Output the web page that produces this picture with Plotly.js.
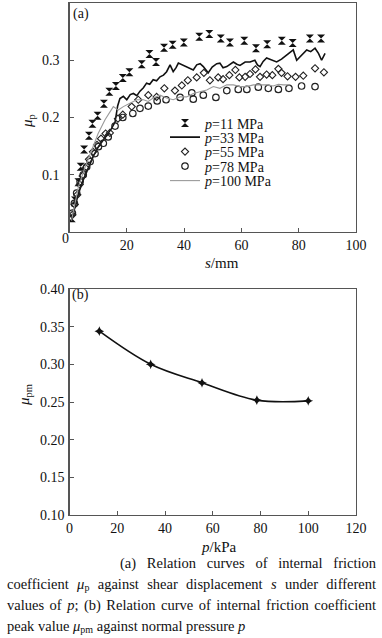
<!DOCTYPE html>
<html>
<head>
<meta charset="utf-8">
<script src="https://cdn.plot.ly/plotly-3.0.1.min.js"></script>
<style>
  html, body { margin: 0; padding: 0; background: #fff; }
  #wrap { position: relative; width: 382px; height: 638px; overflow: hidden; }
  #chart { position: absolute; left: 0; top: 0; width: 382px; height: 638px; }
  #caption { position: absolute; left: 7px; top: 553px; width: 369px;
    font-family: "Liberation Serif", "Times New Roman", serif; font-size: 14.5px;
    line-height: 21px; color: #111; }
  #caption .j { text-align: justify; text-align-last: justify; white-space: nowrap; }
  #caption .l { text-align: left; white-space: nowrap; }
  #caption sub { font-size: 10px; vertical-align: -2px; line-height: 0; }
  #chart text { font-family: "Liberation Serif", "Times New Roman", serif !important; }
</style>
</head>
<body>
<div id="wrap">
  <div id="chart"></div>
  <div id="caption">
    <div class="j" style="padding-left:113px">(a) Relation curves of internal friction</div>
    <div class="j">coefficient <i>μ</i><sub>p</sub> against shear displacement <i>s</i> under different</div>
    <div class="j">values of <i>p</i>; (b) Relation curve of internal friction coefficient</div>
    <div class="l">peak value <i>μ</i><sub>pm</sub> against normal pressure <i>p</i></div>
  </div>
</div>
<script>
// ---------- (a) data: mu_p vs s ----------
var s11  = [0.8, 1.9, 3.1, 3.9, 5.1, 6.8, 8.0, 9.8, 12.0, 13.9, 16.2, 18.6, 20.9, 25.2, 27.9, 30.2, 33.0, 36.0, 39.9, 45.3, 48.8, 52.8, 56.0, 61.0, 65.1, 69.0, 74.1, 77.9, 83.9, 87.8];
var mu11 = [0.024, 0.055, 0.087, 0.114, 0.144, 0.168, 0.189, 0.203, 0.224, 0.245, 0.255, 0.269, 0.279, 0.293, 0.311, 0.297, 0.322, 0.327, 0.331, 0.341, 0.346, 0.338, 0.331, 0.334, 0.321, 0.328, 0.334, 0.330, 0.338, 0.338];

var s33  = [0.7, 1.9, 3.1, 4.8, 6.6, 8.3, 10.1, 12.4, 14.7, 15.9, 16.8, 17.6, 18.8, 20.0, 21.2, 22.3, 23.5, 24.6, 25.8, 26.9, 28.0, 29.2, 30.4, 31.6, 32.8, 33.9, 35.1, 36.2, 37.2, 38.0, 39.2, 40.3, 41.8, 43.2, 44.4, 45.6, 46.7, 48.4, 49.8, 51.4, 52.5, 53.6, 54.9, 56.0, 57.2, 58.4, 59.5, 61.3, 63.0, 64.7, 65.6, 66.5, 67.6, 68.8, 70.5, 72.3, 74.0, 75.8, 77.0, 78.1, 79.3, 80.9, 82.8, 84.2, 85.7, 86.9, 88.0, 89.2];
var mu33 = [0.020, 0.044, 0.067, 0.091, 0.112, 0.132, 0.149, 0.164, 0.181, 0.192, 0.220, 0.233, 0.237, 0.231, 0.240, 0.242, 0.238, 0.246, 0.252, 0.260, 0.258, 0.266, 0.264, 0.271, 0.274, 0.280, 0.292, 0.280, 0.287, 0.295, 0.292, 0.289, 0.286, 0.283, 0.292, 0.294, 0.289, 0.278, 0.288, 0.294, 0.295, 0.287, 0.289, 0.293, 0.297, 0.293, 0.291, 0.297, 0.297, 0.300, 0.292, 0.289, 0.298, 0.304, 0.300, 0.297, 0.302, 0.309, 0.314, 0.318, 0.300, 0.309, 0.318, 0.315, 0.321, 0.312, 0.300, 0.312];

var s55  = [1.0, 1.8, 2.7, 3.6, 4.6, 5.6, 6.8, 8.2, 9.6, 11.0, 12.6, 14.1, 16.9, 18.6, 21.7, 24.0, 27.5, 30.4, 33.1, 36.8, 39.2, 41.3, 44.4, 46.9, 49.0, 51.9, 53.6, 55.8, 57.9, 59.3, 61.3, 63.0, 64.9, 66.5, 68.8, 70.8, 72.9, 74.0, 76.1, 78.9, 81.6, 85.7, 88.8];
var mu55 = [0.030, 0.048, 0.065, 0.083, 0.098, 0.112, 0.127, 0.140, 0.152, 0.163, 0.172, 0.173, 0.198, 0.205, 0.219, 0.231, 0.239, 0.236, 0.251, 0.247, 0.256, 0.265, 0.270, 0.278, 0.265, 0.270, 0.267, 0.274, 0.283, 0.270, 0.271, 0.276, 0.284, 0.271, 0.275, 0.274, 0.285, 0.278, 0.272, 0.271, 0.273, 0.286, 0.279];

var s78  = [1.0, 1.7, 2.5, 3.7, 4.8, 6.0, 7.2, 8.9, 10.1, 11.8, 13.5, 15.9, 18.6, 22.1, 24.6, 27.5, 30.6, 33.7, 38.6, 42.7, 43.2, 46.7, 51.1, 54.9, 58.9, 61.9, 65.9, 69.4, 72.9, 76.6, 81.0, 85.7];
var mu78 = [0.033, 0.050, 0.068, 0.088, 0.100, 0.114, 0.123, 0.137, 0.149, 0.155, 0.166, 0.185, 0.200, 0.207, 0.216, 0.220, 0.229, 0.231, 0.235, 0.243, 0.232, 0.239, 0.235, 0.247, 0.249, 0.249, 0.253, 0.251, 0.249, 0.251, 0.255, 0.254];

var s100  = [0.7, 2.0, 3.1, 5.5, 7.7, 10.0, 12.4, 14.7, 15.3, 17.0, 18.8, 21.1, 23.5, 25.8, 27.5, 29.2, 31.6, 33.9, 36.2, 38.6, 40.9, 43.2, 45.5, 47.9, 50.2, 52.5, 54.9, 57.2, 59.5, 61.8, 64.2, 66.5, 68.8, 71.1, 72.9, 74.6, 77.0];
var mu100 = [0.020, 0.050, 0.079, 0.114, 0.143, 0.172, 0.196, 0.213, 0.219, 0.213, 0.219, 0.225, 0.231, 0.231, 0.228, 0.234, 0.239, 0.234, 0.231, 0.236, 0.236, 0.242, 0.245, 0.248, 0.254, 0.251, 0.257, 0.257, 0.254, 0.254, 0.257, 0.257, 0.257, 0.255, 0.258, 0.257, 0.257];

var seriesNames = ["<i>p</i>=11 MPa", "<i>p</i>=33 MPa", "<i>p</i>=55 MPa", "<i>p</i>=78 MPa", "<i>p</i>=100 MPa"];

// ---------- (b) data: peak mu_pm vs p ----------
var pVals = [12.5, 34, 55.5, 78.5, 100];
var muPm  = [0.344, 0.300, 0.2755, 0.2525, 0.2515];

// ---------- tick labels ----------
var xTopTicks = [20, 40, 60, 80, 100];
var xTopText  = ["20", "40", "60", "80", "100"];
var yTopTicks = [0.1, 0.2, 0.3, 0.4];
var yTopText  = ["0.1", "0.2", "0.3", "0.4"];
var xBotTicks = [0, 20, 40, 60, 80, 100, 120];
var xBotText  = ["0", "20", "40", "60", "80", "100", "120"];
var yBotTicks = [0.10, 0.15, 0.20, 0.25, 0.30, 0.35, 0.40];
var yBotText  = ["0.10", "0.15", "0.20", "0.25", "0.30", "0.35", "0.40"];

// ---------- helpers: pixel -> paper ----------
var W = 382, H = 638;
function px(x) { return x / W; }
function py(y) { return 1 - y / H; }

var SERIF = "Liberation Serif";
var FRAME = "#555";
var legendRows = [123.5, 137.5, 152, 166.5, 181];

var traces = [
  { x: s11, y: mu11, mode: "markers", name: seriesNames[0], xaxis: "x", yaxis: "y", legend: "legend",
    marker: { symbol: "hourglass", size: 8, color: "#111" } },
  { x: s33, y: mu33, mode: "lines", name: seriesNames[1], xaxis: "x", yaxis: "y", legend: "legend2",
    line: { color: "#111", width: 1.6 } },
  { x: s55, y: mu55, mode: "markers", name: seriesNames[2], xaxis: "x", yaxis: "y", legend: "legend3",
    marker: { symbol: "diamond-open", size: 5.5, color: "#222", line: { width: 1.1, color: "#222" } } },
  { x: s78, y: mu78, mode: "markers", name: seriesNames[3], xaxis: "x", yaxis: "y", legend: "legend4",
    marker: { symbol: "circle-open", size: 6.5, color: "#222", line: { width: 1.2, color: "#222" } } },
  { x: s100, y: mu100, mode: "lines", name: seriesNames[4], xaxis: "x", yaxis: "y", legend: "legend5",
    line: { color: "#9a9a9a", width: 1.1 } },
  { x: pVals, y: muPm, mode: "lines+markers", name: "mu_pm", xaxis: "x2", yaxis: "y2", showlegend: false,
    line: { color: "#111", width: 1.6, shape: "spline", smoothing: 1 },
    marker: { symbol: "star-diamond", size: 7, color: "#111" } }
];

function axisBase() {
  return {
    showline: true, mirror: true, linecolor: FRAME, linewidth: 1.2,
    ticks: "inside", ticklen: 4, tickwidth: 1, tickcolor: FRAME,
    showgrid: false, zeroline: false, tickmode: "array",
    tickfont: { family: SERIF, size: 14, color: "#111" }
  };
}

var xa = Object.assign(axisBase(), { domain: [px(69.5), px(356)], anchor: "y", range: [0, 100], tickvals: xTopTicks, ticktext: xTopText });
var ya = Object.assign(axisBase(), { domain: [py(232), py(3)], anchor: "x", range: [0, 0.4], tickvals: yTopTicks, ticktext: yTopText, ticklabelstandoff: 6 });
var xb = Object.assign(axisBase(), { domain: [px(69.5), px(356)], anchor: "y2", range: [0, 120], tickvals: xBotTicks, ticktext: xBotText });
var yb = Object.assign(axisBase(), { domain: [py(515), py(289)], anchor: "x2", range: [0.1, 0.4], tickvals: yBotTicks, ticktext: yBotText, ticklabelstandoff: 1 });

function legendAt(row) {
  return { x: px(165), y: py(legendRows[row]), xanchor: "left", yanchor: "middle",
    bgcolor: "rgba(0,0,0,0)", borderwidth: 0, itemwidth: 30,
    font: { family: SERIF, size: 14, color: "#111" } };
}

function ann(text, x, y, size, extra) {
  return Object.assign({ text: text, x: px(x), y: py(y), xref: "paper", yref: "paper",
    showarrow: false, xanchor: "center", yanchor: "middle",
    font: { family: SERIF, size: size, color: "#111" } }, extra || {});
}

var layout = {
  width: W, height: H, margin: { l: 0, r: 0, t: 0, b: 0 },
  paper_bgcolor: "#fff", plot_bgcolor: "#fff", showlegend: true,
  font: { family: SERIF, size: 14, color: "#111" },
  xaxis: xa, yaxis: ya, xaxis2: xb, yaxis2: yb,
  legend: legendAt(0), legend2: legendAt(1), legend3: legendAt(2), legend4: legendAt(3), legend5: legendAt(4),
  annotations: [
    ann("0", 65, 238, 14),
    ann("(a)", 81, 13.5, 14),
    ann("(b)", 80.5, 295, 14),
    ann("<i>μ</i><sub>p</sub>", 28, 121, 15, { textangle: -90 }),
    ann("<i>μ</i><sub>pm</sub>", 25, 395, 15, { textangle: -90 }),
    ann("<i>s</i>/mm", 222, 263, 15),
    ann("<i>p</i>/kPa", 219, 547, 15)
  ]
};

Plotly.newPlot("chart", traces, layout, { staticPlot: true, displayModeBar: false });
</script>
</body>
</html>
